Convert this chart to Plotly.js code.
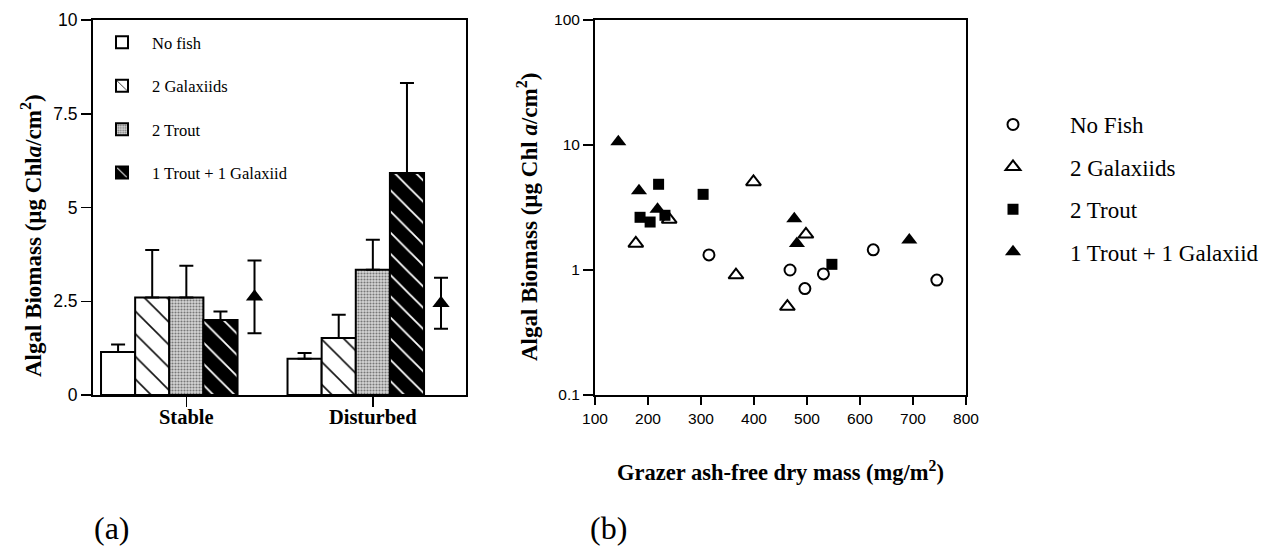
<!DOCTYPE html>
<html>
<head>
<meta charset="utf-8">
<script src="https://cdn.plot.ly/plotly-3.0.1.min.js"></script>
<style>html,body{margin:0;padding:0;background:#fff;}#chart{width:1265px;height:551px;}</style>
</head>
<body>
<div id="chart"></div>
<script>
// ---------- Panel (a) data ----------
const categories = ['Stable', 'Disturbed'];
const noFish      = [1.15, 0.97];
const noFishErr   = [0.20, 0.15];
const galaxiids2  = [2.60, 1.52];
const galaxiids2Err = [1.27, 0.62];
const trout2      = [2.60, 3.34];
const trout2Err   = [0.85, 0.80];
const mixed       = [2.00, 5.92];
const mixedErr    = [0.23, 2.40];
const expected    = [2.62, 2.45];
const expectedErr = [0.97, 0.68];
const yTicksA     = [0, 2.5, 5, 7.5, 10];
const yTickTextA  = ['0', '2.5', '5', '7.5', '10'];

// ---------- Panel (b) data ----------
const nfX = [315, 468, 496, 531, 625, 745];
const nfY = [1.32, 1.00, 0.71, 0.93, 1.45, 0.83];
const gX  = [177, 240, 399, 366, 498, 463];
const gY  = [1.63, 2.54, 5.06, 0.91, 1.93, 0.51];
const tX  = [220, 304, 185, 204, 232, 547];
const tY  = [4.85, 4.03, 2.64, 2.42, 2.74, 1.11];
const mX  = [144, 183, 218, 476, 481, 693];
const mY  = [10.6, 4.31, 3.06, 2.57, 1.63, 1.74];
const yTicksB    = [0.1, 1, 10, 100];
const yTickTextB = ['0.1', '1', '10', '100'];
const xTicksB    = [100, 200, 300, 400, 500, 600, 700, 800];

// ---------- layout constants ----------
const slotW = 0.183;
const slotOffsets = [-0.457, -0.274, -0.091, 0.092];
const expectedShift = 0.366;
const catIdx = categories.map((c, i) => i);
const zeros = categories.map(() => 0);

const serif = 'Liberation Serif, Times New Roman, serif';
const sans = 'Liberation Sans, Arial, sans-serif';
const errStyle = (arr) => ({type: 'data', symmetric: false, array: arr, arrayminus: zeros,
  color: 'black', thickness: 2, width: 7});

const barLine = {color: 'black', width: 2};

const traces = [
  {type: 'bar', name: 'No fish', x: catIdx, y: noFish, width: slotW, offset: slotOffsets[0],
   marker: {color: 'white', line: barLine}, error_y: errStyle(noFishErr),
   legend: 'legend', legendgroup: 'a1', xaxis: 'x', yaxis: 'y'},
  {type: 'bar', name: '2 Galaxiids', x: catIdx, y: galaxiids2, width: slotW, offset: slotOffsets[1],
   marker: {color: 'white', line: barLine,
            pattern: {shape: '\\', fgcolor: '#111', bgcolor: 'white', size: 16, solidity: 0.1}},
   error_y: errStyle(galaxiids2Err), legend: 'legend', legendgroup: 'a2', xaxis: 'x', yaxis: 'y'},
  {type: 'bar', name: '2 Trout', x: catIdx, y: trout2, width: slotW, offset: slotOffsets[2],
   marker: {color: '#cccccc', line: barLine,
            pattern: {shape: '.', fgcolor: '#777', bgcolor: '#d6d6d6', size: 3, solidity: 0.4}},
   error_y: errStyle(trout2Err), legend: 'legend', legendgroup: 'a3', xaxis: 'x', yaxis: 'y'},
  {type: 'bar', name: '1 Trout + 1 Galaxiid', x: catIdx, y: mixed, width: slotW, offset: slotOffsets[3],
   marker: {color: 'black', line: barLine,
            pattern: {shape: '\\', fgcolor: 'white', bgcolor: 'black', size: 15, solidity: 0.12}},
   error_y: errStyle(mixedErr), legend: 'legend', legendgroup: 'a4', xaxis: 'x', yaxis: 'y'},
  {type: 'scatter', mode: 'markers', name: 'Expected', showlegend: false,
   x: catIdx.map(i => i + expectedShift), y: expected,
   marker: {symbol: 'triangle-up', size: 15, color: 'black'},
   error_y: {type: 'data', array: expectedErr, color: 'black', thickness: 2, width: 7},
   xaxis: 'x', yaxis: 'y'},

  {type: 'scatter', mode: 'markers', name: 'No Fish', x: nfX, y: nfY,
   marker: {symbol: 'circle-open', size: 11, color: 'black', line: {width: 2}},
   legend: 'legend2', legendgroup: 'b1', xaxis: 'x2', yaxis: 'y2'},
  {type: 'scatter', mode: 'markers', name: '2 Galaxiids', x: gX, y: gY,
   marker: {symbol: 'triangle-up-open', size: 13, color: 'black', line: {width: 2}},
   legend: 'legend2', legendgroup: 'b2', xaxis: 'x2', yaxis: 'y2'},
  {type: 'scatter', mode: 'markers', name: '2 Trout', x: tX, y: tY,
   marker: {symbol: 'square', size: 11, color: 'black'},
   legend: 'legend2', legendgroup: 'b3', xaxis: 'x2', yaxis: 'y2'},
  {type: 'scatter', mode: 'markers', name: '1 Trout + 1 Galaxiid', x: mX, y: mY,
   marker: {symbol: 'triangle-up', size: 14, color: 'black'},
   legend: 'legend2', legendgroup: 'b4', xaxis: 'x2', yaxis: 'y2'}
];

const W = 1265, H = 551;
// paper helpers: plot area spans x 93..966 and y 20..395 px
const px = (v) => (v - 93) / 873;
const py = (v) => (395 - v) / 375;

const axisCommon = {showline: true, linecolor: 'black', linewidth: 2, mirror: true,
  ticks: 'outside', tickcolor: 'black', tickwidth: 1.5, showgrid: false, zeroline: false,
  automargin: false};

const layout = {
  width: W, height: H,
  margin: {l: 93, r: 299, t: 20, b: 156, autoexpand: false},
  paper_bgcolor: 'white', plot_bgcolor: 'white',
  barmode: 'overlay',
  showlegend: true,
  xaxis: Object.assign({}, axisCommon, {
    domain: [0, 373 / 873], range: [-0.5, 1.5], tickvals: catIdx, ticktext: categories,
    ticklen: 10, ticklabelstandoff: -8,
    tickfont: {family: serif, size: 20.5, color: 'black', weight: 'bold'}
  }),
  yaxis: Object.assign({}, axisCommon, {
    range: [0, 10], tickvals: yTicksA, ticktext: yTickTextA, ticklen: 10,
    tickfont: {family: sans, size: 17.5, color: 'black'}
  }),
  xaxis2: Object.assign({}, axisCommon, {
    domain: [502 / 873, 1], range: [100, 800], tickvals: xTicksB, ticklen: 8, anchor: 'y2',
    tickfont: {family: sans, size: 15.5, color: 'black'},
    title: {text: 'Grazer ash-free dry mass (mg/m<sup>2</sup>)', standoff: 39,
            font: {family: serif, size: 22.5, color: 'black', weight: 'bold'}}
  }),
  yaxis2: Object.assign({}, axisCommon, {
    type: 'log', range: [-1, 2], tickvals: yTicksB, ticktext: yTickTextB, ticklen: 10, anchor: 'x2',
    tickfont: {family: sans, size: 15.5, color: 'black'}
  }),
  legend: {xref: 'paper', yref: 'paper', x: px(92), y: py(25),
           xanchor: 'left', yanchor: 'top', bgcolor: 'rgba(0,0,0,0)', borderwidth: 0,
           tracegroupgap: 19, itemwidth: 50, itemclick: false,
           font: {family: serif, size: 16.5, color: 'black'}},
  legend2: {xref: 'paper', yref: 'paper', x: px(956), y: py(103),
            xanchor: 'left', yanchor: 'top', bgcolor: 'rgba(0,0,0,0)', borderwidth: 0,
            tracegroupgap: 9.5, itemwidth: 104,
            font: {family: serif, size: 23, color: 'black'}},
  annotations: [
    {xref: 'paper', yref: 'paper', x: px(31), y: py(236), textangle: -90,
     xanchor: 'center', yanchor: 'middle',
     text: 'Algal Biomass (µg Chl<i>a</i>/cm<sup>2</sup>)', showarrow: false,
     font: {family: serif, size: 23, color: 'black', weight: 'bold'}},
    {xref: 'paper', yref: 'paper', x: px(527), y: py(217), textangle: -90,
     xanchor: 'center', yanchor: 'middle',
     text: 'Algal Biomass (µg Chl <i>a</i>/cm<sup>2</sup>)', showarrow: false,
     font: {family: serif, size: 23, color: 'black', weight: 'bold'}},
    {xref: 'paper', yref: 'paper', x: px(112), y: py(528), xanchor: 'center', yanchor: 'middle',
     text: '(a)', showarrow: false, font: {family: serif, size: 32, color: 'black'}},
    {xref: 'paper', yref: 'paper', x: px(608), y: py(528), xanchor: 'center', yanchor: 'middle',
     text: '(b)', showarrow: false, font: {family: serif, size: 32, color: 'black'}}
  ]
};

Plotly.newPlot('chart', traces, layout, {displayModeBar: false, staticPlot: true});
</script>
</body>
</html>
